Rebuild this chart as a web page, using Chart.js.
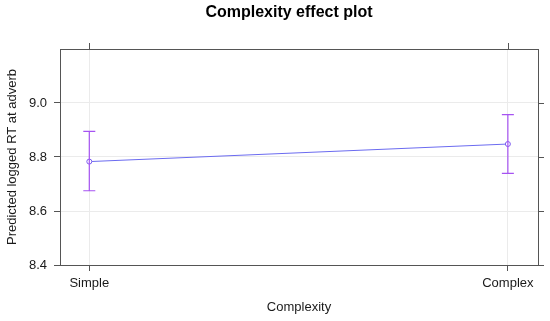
<!DOCTYPE html>
<html>
<head>
<meta charset="utf-8">
<script src="https://cdn.jsdelivr.net/npm/chart.js@4.4.1/dist/chart.umd.min.js"></script>
<style>
  html, body { margin: 0; padding: 0; background: #ffffff; }
  #wrap { width: 550px; height: 321px; position: relative; }
</style>
</head>
<body>
<div id="wrap"><canvas id="c" width="550" height="321"></canvas></div>
<script>
// ---- data ----
const chartTitle = "Complexity effect plot";
const xTitle = "Complexity";
const yTitle = "Predicted logged RT at adverb";
const categories = ["Simple", "Complex"];
const fitValues = [8.783, 8.848];
const lowerValues = [8.675, 8.739];
const upperValues = [8.895, 8.957];
const yTickValues = [8.4, 8.6, 8.8, 9.0];

const FONT = "'Liberation Sans', Arial, sans-serif";
const frameColor = '#555555';
const gridColor = '#ebebeb';
const lineColor = '#6b6bf0';
const ciColor = '#a653f2';

const points = categories.map((c, i) => ({ x: i, y: fitValues[i] }));

const framePlugin = {
  id: 'frame',
  afterDatasetsDraw(chart) {
    const ctx = chart.ctx;
    const xs = chart.scales.x, ys = chart.scales.y;
    ctx.save();
    ctx.strokeStyle = ciColor;
    ctx.lineWidth = 1.2;
    categories.forEach((c, i) => {
      const px = xs.getPixelForValue(i);
      const pl = ys.getPixelForValue(lowerValues[i]);
      const pu = ys.getPixelForValue(upperValues[i]);
      ctx.beginPath();
      ctx.moveTo(px, pl); ctx.lineTo(px, pu);
      ctx.moveTo(px - 6, pl); ctx.lineTo(px + 6, pl);
      ctx.moveTo(px - 6, pu); ctx.lineTo(px + 6, pu);
      ctx.stroke();
    });
    ctx.restore();
  },
  afterDraw(chart) {
    const ctx = chart.ctx;
    const a = chart.chartArea;
    const xs = chart.scales.x, ys = chart.scales.y;
    ctx.save();
    ctx.strokeStyle = frameColor;
    ctx.lineWidth = 1;
    ctx.strokeRect(Math.round(a.left) + 0.5, Math.round(a.top) + 0.5,
                   Math.round(a.right - a.left), Math.round(a.bottom - a.top));
    ctx.beginPath();
    categories.forEach((c, i) => {
      const px = Math.round(xs.getPixelForValue(i)) + 0.5;
      ctx.moveTo(px, a.top); ctx.lineTo(px, a.top - 6);
    });
    yTickValues.forEach(v => {
      const py = Math.round(ys.getPixelForValue(v)) + 0.5;
      ctx.moveTo(a.right, py); ctx.lineTo(a.right + 6, py);
    });
    ctx.stroke();
    ctx.fillStyle = '#000000';
    ctx.font = "bold 16px " + FONT;
    ctx.textAlign = 'center';
    ctx.textBaseline = 'middle';
    ctx.fillText(chartTitle, 289, 13);
    ctx.restore();
  }
};

new Chart(document.getElementById('c'), {
  type: 'line',
  data: {
    datasets: [{
      data: points,
      borderColor: lineColor,
      borderWidth: 1,
      pointRadius: 2.5,
      pointBackgroundColor: '#ffffff',
      pointBorderColor: '#7d5cf0',
      pointBorderWidth: 1,
      tension: 0
    }]
  },
  options: {
    responsive: false,
    animation: false,
    devicePixelRatio: 1,
    layout: { padding: { top: 49, right: 12, left: 0, bottom: 0 } },
    plugins: { legend: { display: false }, tooltip: { enabled: false }, title: { display: false } },
    scales: {
      x: {
        type: 'linear',
        min: -0.07,
        max: 1.072,
        afterBuildTicks: s => { s.ticks = categories.map((c, i) => ({ value: i })); },
        afterFit: s => { s.height = 56; },
        ticks: {
          autoSkip: false,
          maxRotation: 0,
          padding: 5,
          color: '#1a1a1a',
          font: { family: FONT, size: 13 },
          callback: v => categories[v]
        },
        grid: { color: gridColor, tickColor: frameColor, tickLength: 6, drawTicks: true },
        border: { display: true, color: frameColor, width: 1 },
        title: {
          display: true, text: xTitle, color: '#1a1a1a',
          font: { family: FONT, size: 13 }, padding: { top: 0, bottom: 6 }
        }
      },
      y: {
        type: 'linear',
        min: 8.4,
        max: 9.2,
        afterBuildTicks: s => { s.ticks = yTickValues.map(v => ({ value: v })); },
        afterFit: s => { s.width = 60; },
        ticks: {
          padding: 7,
          color: '#1a1a1a',
          font: { family: FONT, size: 13 },
          callback: v => Number(v).toFixed(1)
        },
        grid: { color: gridColor, tickColor: frameColor, tickLength: 6, drawTicks: true },
        border: { display: true, color: frameColor, width: 1 },
        title: {
          display: true, text: yTitle, color: '#1a1a1a',
          font: { family: FONT, size: 13 }, padding: { top: 5, bottom: 0 }
        }
      }
    }
  },
  plugins: [framePlugin]
});
</script>
</body>
</html>
